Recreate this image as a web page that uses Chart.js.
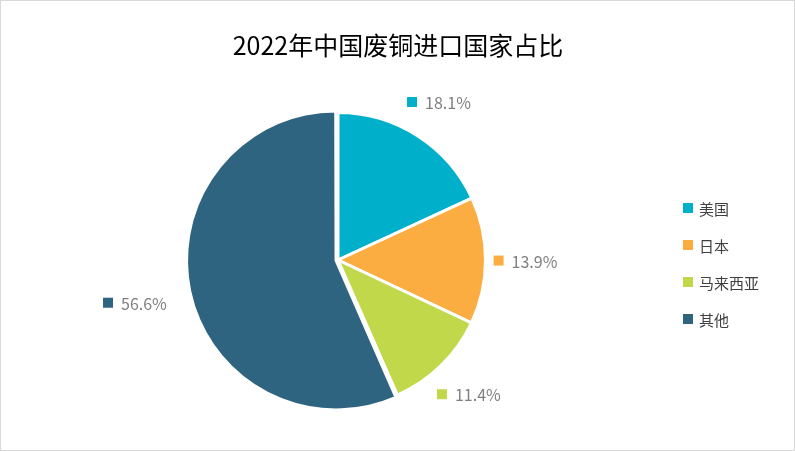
<!DOCTYPE html>
<html><head><meta charset="utf-8">
<script src="https://cdn.jsdelivr.net/npm/chart.js@4"></script>
<style>body{margin:0;background:#fff}#wrap{width:795px;height:451px;position:relative;box-sizing:border-box;border:1px solid #d9d9d9}</style>
</head><body><div id="wrap"><canvas id="myChart" width="793" height="449"></canvas></div>
<script>
var countries = ['美国', '日本', '马来西亚', '其他'];
var shares = [18.1, 13.9, 11.4, 56.6];
var colors = ['#00b0cb', '#fbad41', '#c0d849', '#2e6480'];
var FONT = '"Noto Sans CJK SC", "Noto Sans", sans-serif';

var decor = {
    id: 'decor',
    afterDraw: function(chart){
        var ctx = chart.ctx;
        ctx.save();
        ctx.fillStyle = '#000';
        ctx.font = '25px ' + FONT;
        ctx.textAlign = 'center';
        ctx.textBaseline = 'middle';
        ctx.fillText('2022年中国废铜进口国家占比', 397, 44);
        // legend
        ctx.font = '15px ' + FONT;
        ctx.textAlign = 'left';
        for (var i = 0; i < countries.length; i++){
            var y = 207 + i * 37;
            ctx.fillStyle = colors[i];
            ctx.fillRect(682, y - 5, 10, 10);
            ctx.fillStyle = '#404040';
            ctx.fillText(countries[i], 698, y + 1);
        }
        // data labels
        var meta = chart.getDatasetMeta(0);
        var dist = [40, 40, 40, 60];
        ctx.font = '16px ' + FONT;
        meta.data.forEach(function(arc, i){
            var p = arc.getProps(['x','y','startAngle','endAngle','outerRadius']);
            var a = (p.startAngle + p.endAngle) / 2;
            var r = p.outerRadius + dist[i];
            var cx = p.x + Math.cos(a) * r, cy = p.y + Math.sin(a) * r;
            var text = shares[i].toFixed(1) + '%';
            var w = ctx.measureText(text).width + 18;
            var x0 = cx - w / 2;
            ctx.fillStyle = colors[i];
            ctx.fillRect(x0, cy - 5, 10, 10);
            ctx.fillStyle = '#7f7f7f';
            ctx.fillText(text, x0 + 18, cy + 1);
        });
        ctx.restore();
    }
};

new Chart(document.getElementById('myChart').getContext('2d'), {
    type: 'pie',
    data: {
        labels: countries,
        datasets: [{
            data: shares,
            backgroundColor: colors,
            borderColor: '#fff',
            borderWidth: 3,
            offset: [0, 0, 0, 8]
        }]
    },
    options: {
        responsive: false,
        animation: false,
        layout: {padding: {left: 100, right: 219, top: 106, bottom: 37}},
        plugins: {legend: {display: false}, tooltip: {enabled: false}, title: {display: false}}
    },
    plugins: [decor]
});
</script></body></html>
